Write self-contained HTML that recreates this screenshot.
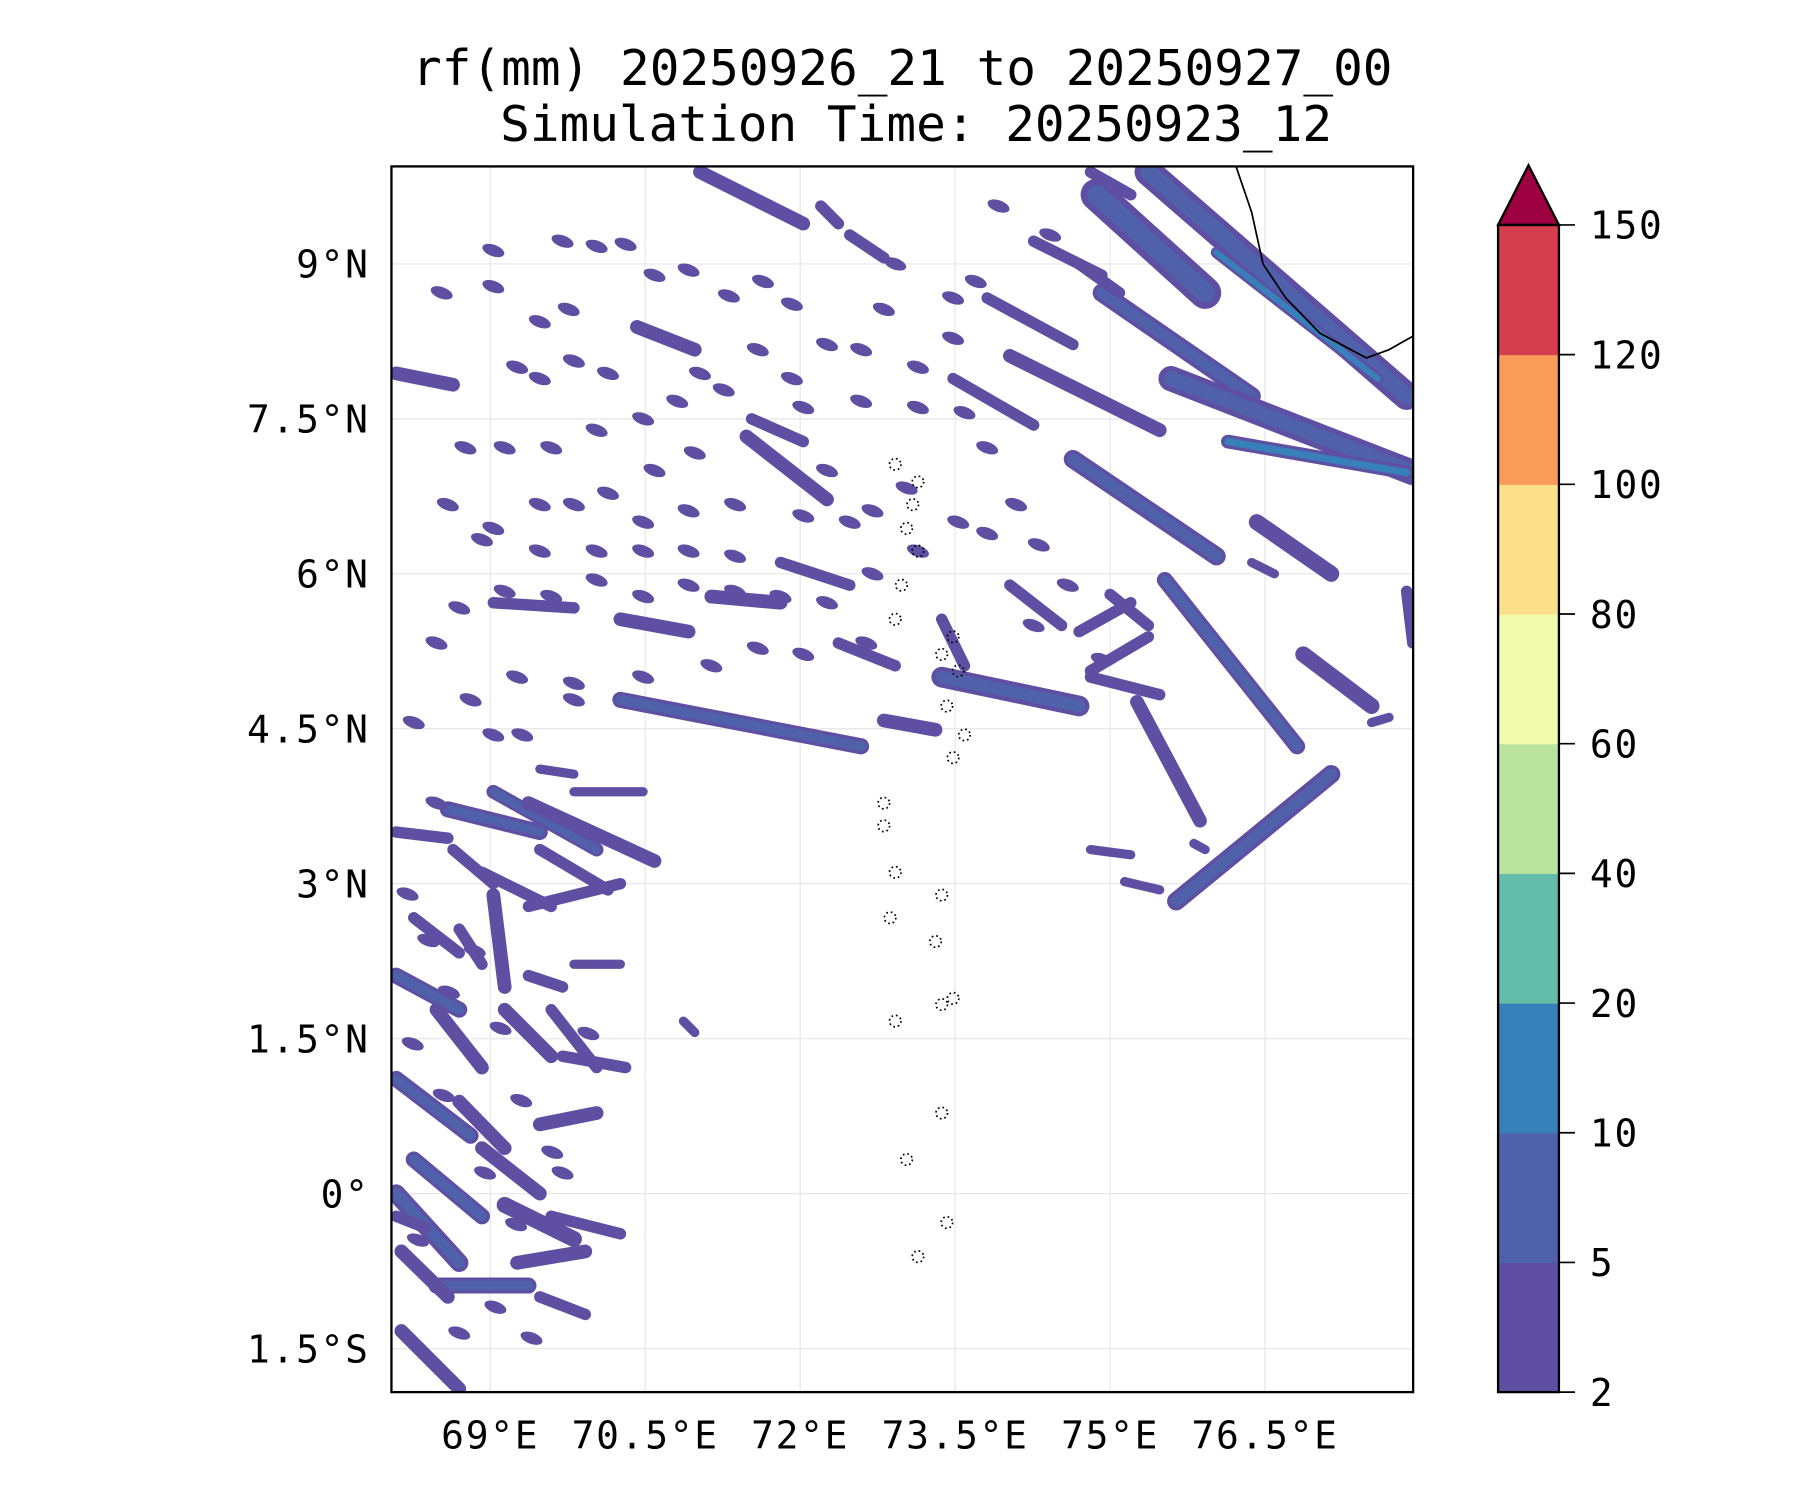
<!DOCTYPE html>
<html><head><meta charset="utf-8"><style>
html,body{margin:0;padding:0;background:#fff}
svg{display:block}
text{font-family:"DejaVu Sans Mono","Liberation Mono",monospace;fill:#000}
</style></head><body>
<svg id="chart" width="1800" height="1500" viewBox="0 0 1568 1307" preserveAspectRatio="none" xmlns="http://www.w3.org/2000/svg">
<text x="786" y="74" font-size="43" text-anchor="middle">rf(mm) 20250926_21 to 20250927_00</text>
<text x="798" y="123" font-size="43" text-anchor="middle">Simulation Time: 20250923_12</text>
<defs><clipPath id="mapclip"><rect x="341" y="145" width="890" height="1068"/></clipPath></defs>
<g id="grid"></g>
<g id="rain" clip-path="url(#mapclip)"></g>
<g id="geo" clip-path="url(#mapclip)"></g>
<rect x="341" y="145" width="890" height="1068" fill="none" stroke="#000" stroke-width="2"/>
<g id="axes"></g>
<g id="cbar"></g>
</svg>
<script>
// ---- data ----
const lonTicks = [69, 70.5, 72, 73.5, 75, 76.5];
const lonTickLabels = ["69°E", "70.5°E", "72°E", "73.5°E", "75°E", "76.5°E"];
const latTicks = [9, 7.5, 6, 4.5, 3, 1.5, 0, -1.5];
const latTickLabels = ["9°N", "7.5°N", "6°N", "4.5°N", "3°N", "1.5°N", "0°", "1.5°S"];
const levelBounds = [2, 5, 10, 20, 40, 60, 80, 100, 120, 150];
const levelColors = ["#5e4fa2", "#4f61aa", "#3880b9", "#62bda9", "#bbe3a0", "#f2faad", "#fcdf8b", "#f99b59", "#d53e4f"];
const extendColor = "#9e0142";

const bandLon1 = [75.37,76.03,74.87,74.92,75.59,76.14,74.03,74.64,76.42,74.70,75.53,76.87,73.37,75.26,75.64,74.03,74.70,74.81,75.00,74.81,74.81,75.14,74.26,73.81,73.48,71.03,72.20,72.48,74.81,
 70.26,72.81,70.42,71.48,71.53,71.81,70.26,69.03,68.09,71.14,72.37,73.37,
 68.59,69.03,69.37,69.48,68.64,68.09,68.92,68.26,69.03,69.37,68.09,68.48,68.70,69.14,69.59,68.09,68.26,68.09,68.70,68.92,69.48,69.70,69.14,68.48,68.14,69.26,69.48,68.14,69.59,69.37,69.81,68.09,69.81,69.48,
 77.87,77.53,76.37,75.81,70.87];
const bandLat1 = [9.89,9.11,9.67,8.72,7.89,7.28,8.11,7.11,6.50,9.00,5.94,5.22,5.00,4.76,2.83,5.89,5.44,5.06,5.80,5.00,3.33,3.02,9.22,8.67,7.89,9.89,9.56,9.28,9.89,
 4.78,4.58,8.39,7.33,7.50,6.11,5.56,5.72,7.94,5.78,5.33,5.56,
 3.72,3.89,3.78,3.33,3.33,3.50,3.11,2.67,2.89,2.78,2.11,1.78,2.56,1.78,1.78,1.11,0.33,0.00,0.89,0.44,0.67,1.33,-0.11,-0.89,-0.56,-0.67,-1.00,-1.33,-0.22,2.11,2.22,-0.22,3.89,4.11,
 5.83,4.56,6.11,3.39,1.67];
const bandLon2 = [77.87,77.59,75.92,76.37,77.93,77.87,75.48,76.03,77.14,75.09,76.81,77.53,74.70,75.87,77.14,74.53,75.20,75.37,75.37,75.48,75.20,75.48,74.92,74.64,74.26,72.03,72.37,72.81,75.20,
 72.59,73.31,70.98,72.26,72.03,72.48,70.92,69.81,68.64,71.81,72.92,73.59,
 69.48,70.03,70.59,70.14,69.03,68.59,69.59,68.70,69.14,70.26,68.70,68.92,68.92,69.59,70.03,68.81,68.92,68.70,69.14,69.48,70.03,70.31,69.81,69.37,68.59,69.92,69.92,68.70,70.26,69.70,70.26,68.37,70.48,69.81,
 77.93,77.70,76.59,75.92,70.98];
const bandLat2 = [7.72,7.89,8.72,7.72,6.98,6.98,7.39,6.17,6.00,8.72,4.33,4.72,4.72,3.61,4.06,5.50,5.72,5.39,5.50,4.83,3.28,2.94,8.89,8.22,7.44,9.39,9.39,9.06,9.67,
 4.33,4.49,8.17,6.72,7.28,5.89,5.44,5.67,7.83,5.72,5.11,5.11,
 3.50,3.33,3.22,2.94,3.00,3.44,2.78,2.33,2.00,3.00,1.78,1.22,2.22,1.33,1.22,0.56,-0.22,-0.67,0.44,0.00,0.78,1.22,-0.44,-0.89,-1.00,-0.56,-1.17,-1.89,-0.39,2.00,2.22,-0.33,3.89,4.06,
 5.33,4.61,6.00,3.33,1.56];
const bandWidth = [24,10,28,16,22,12,12,16,14,10,14,14,18,12,16,10,10,10,10,10,8,8,10,10,10,12,10,10,10,
 14,12,12,12,10,10,12,10,12,12,10,10,
 14,12,12,10,10,10,10,10,12,10,14,12,10,12,10,14,14,16,12,12,12,10,14,14,12,12,10,12,10,10,8,10,8,8,
 10,8,8,8,8];
const bandLevel = [1,2,1,1,1,2,0,1,0,0,1,0,1,0,1,0,0,0,0,0,0,0,0,0,0,0,0,0,0,
 1,0,0,0,0,0,0,0,0,0,0,0,
 1,1,0,0,0,0,0,0,0,0,1,0,0,0,0,1,1,1,0,0,0,0,0,1,0,0,0,0,0,0,0,0,0,0,
 0,0,0,0,0];

const blobLon = [69.03,70.03,70.31,69.70,70.59,70.92,71.31,71.64,71.92,72.81,72.92,73.48,73.70,73.92,74.42,70.14,69.81,69.48,69.26,71.03,71.26,70.81,70.48,70.03,69.59,69.14,68.76,69.48,69.81,70.14,70.48,70.92,71.37,72.03,72.70,73.03,72.26,72.03,72.59,73.14,73.59,73.81,74.09,74.31,73.81,73.53,73.14,72.70,72.26,71.81,71.37,70.92,70.48,70.03,69.59,69.14,68.70,68.48,69.26,69.81,70.48,71.14,71.59,72.03,72.64,69.48,68.92,68.59,69.03,70.03,70.48,70.92,71.37,70.98,70.59,72.59,73.14,73.48,71.59,71.92,72.26,69.48,69.76,69.03,68.53,69.81,69.31,68.81,68.26,74.59,74.26,74.92,72.48,68.48,69.03,
 68.20,68.40,68.60,68.85,69.10,69.30,69.60,69.95,68.25,68.55,68.95,69.25,69.70,68.30,68.70,69.05,69.40];
const blobLat = [9.13,9.17,9.19,9.22,8.89,8.94,8.69,8.83,8.61,8.56,9.00,8.67,8.83,9.56,9.28,7.94,8.06,7.89,8.00,7.94,7.78,7.67,7.50,7.39,7.22,7.22,7.22,6.67,6.67,6.78,6.50,6.61,6.67,6.56,6.61,6.83,7.00,7.61,7.67,7.61,7.56,7.22,6.67,6.28,6.39,6.50,6.22,6.00,5.72,5.78,5.83,5.89,5.78,5.94,5.78,5.83,5.67,5.33,5.00,4.94,5.00,5.11,5.28,5.22,5.33,6.22,6.33,6.67,6.44,6.22,6.22,6.22,6.17,7.17,7.00,8.17,8.00,8.28,8.17,7.89,8.22,8.44,8.56,8.78,8.72,4.78,4.44,4.78,4.56,5.89,5.50,5.17,6.50,3.78,4.44,
 2.90,2.45,1.95,2.35,1.60,0.90,0.40,1.55,1.45,0.95,0.20,-0.30,0.20,-0.45,-1.35,-1.10,-1.40];

const islandLon = [72.92,73.14,73.09,73.03,73.14,72.98,72.92,73.48,73.37,73.53,73.42,73.59,73.48,72.81,72.81,72.92,73.37,72.87,73.31,73.48,73.37,72.92,73.37,73.03,73.42,73.14];
const islandLat = [7.06,6.89,6.67,6.44,6.22,5.89,5.56,5.39,5.22,5.06,4.72,4.44,4.22,3.78,3.56,3.11,2.89,2.67,2.44,1.89,1.83,1.67,0.78,0.33,-0.28,-0.61];

const coastLon = [76.22,76.37,76.48,76.70,77.03,77.48,77.70,77.93];
const coastLat = [9.94,9.50,9.00,8.67,8.33,8.09,8.17,8.30];

// ---- axes ----
const X0 = 341, X1 = 1231, Y0 = 145, Y1 = 1213;
const lonMin = 68.044, lonMax = 77.933, latMin = -1.922, latMax = 9.944;
const xs = lon => X0 + (lon - lonMin) / (lonMax - lonMin) * (X1 - X0);
const ys = lat => Y0 + (latMax - lat) / (latMax - latMin) * (Y1 - Y0);
const NS = "http://www.w3.org/2000/svg";
function mk(tag, attrs, parent) {
  const e = document.createElementNS(NS, tag);
  for (const k in attrs) e.setAttribute(k, attrs[k]);
  parent.appendChild(e);
  return e;
}
const grid = document.getElementById('grid');
const axes = document.getElementById('axes');
const rain = document.getElementById('rain');
const geo = document.getElementById('geo');
const cbar = document.getElementById('cbar');

lonTicks.forEach((v, i) => {
  const l = mk('line', {x1: xs(v), x2: xs(v), y1: Y0, y2: Y1, stroke: '#e6e6e6', 'stroke-width': 1}, grid);
  
  
  const t = mk('text', {x: xs(v), y: 1262, 'font-size': 33, 'letter-spacing': 1.5, 'text-anchor': 'middle'}, axes);
  t.textContent = lonTickLabels[i];
  
  
});
latTicks.forEach((v, i) => {
  const l = mk('line', {x1: X0, x2: X1, y1: ys(v), y2: ys(v), stroke: '#e6e6e6', 'stroke-width': 1}, grid);
  
  
  const t = mk('text', {x: 322, y: ys(v) + 12, 'font-size': 33, 'letter-spacing': 1.5, 'text-anchor': 'end'}, axes);
  t.textContent = latTickLabels[i];
  
  
});

// rain bands
bandLon1.forEach((v, i) => {
  const a = {x1: xs(v), y1: ys(bandLat1[i]), x2: xs(bandLon2[i]), y2: ys(bandLat2[i])};
  const b = mk('line', Object.assign({stroke: levelColors[0], 'stroke-width': bandWidth[i], 'stroke-linecap': 'round'}, a), rain);
  
  
  if (bandLevel[i] >= 1) {
    const c = mk('line', Object.assign({stroke: levelColors[1], 'stroke-width': bandWidth[i] * 0.6, 'stroke-linecap': 'round'}, a), rain);
    
    
  }
  if (bandLevel[i] >= 2) {
    const d = mk('line', Object.assign({stroke: levelColors[2], 'stroke-width': bandWidth[i] * 0.5, 'stroke-linecap': 'round'}, a), rain);
    
    
  }
});
blobLon.forEach((v, i) => {
  const e = mk('ellipse', {cx: xs(v), cy: ys(blobLat[i]), rx: 10, ry: 5, fill: levelColors[0], transform: `rotate(20 ${xs(v)} ${ys(blobLat[i])})`}, rain);
  
  
});
islandLon.forEach((v, i) => {
  const c = mk('circle', {cx: xs(v), cy: ys(islandLat[i]), r: 5, fill: 'none', stroke: '#000', 'stroke-width': 1.5, 'stroke-dasharray': '1.5 2.5'}, geo);
  
  
});
const coast = mk('polyline', {points: coastLon.map((v, i) => xs(v) + ',' + ys(coastLat[i])).join(' '), fill: 'none', stroke: '#000', 'stroke-width': 1.5}, geo);



// colorbar
const CX = 1305, CW = 53, CT = 196, CB = 1213;
const step = (CB - CT) / (levelBounds.length - 1);
const cy = i => CB - i * step;
levelColors.forEach((col, i) => {
  const r = mk('rect', {x: CX, y: cy(i + 1), width: CW, height: step + 0.5, fill: col}, cbar);
  
  
});
const tri = mk('polygon', {points: `${CX},${CT} ${CX + CW / 2},${CT - 52} ${CX + CW},${CT}`, fill: extendColor, stroke: '#000', 'stroke-width': 2}, cbar);


const outline = mk('rect', {x: CX, y: CT, width: CW, height: CB - CT, fill: 'none', stroke: '#000', 'stroke-width': 2}, cbar);


levelBounds.forEach((v, i) => {
  const l = mk('line', {x1: CX + CW, x2: CX + CW + 14, y1: cy(i), y2: cy(i), stroke: '#000', 'stroke-width': 1.5}, cbar);
  
  
  const t = mk('text', {x: 1385, y: cy(i) + 12, 'font-size': 33, 'letter-spacing': 1.5}, cbar);
  t.textContent = v;
  
  
});
</script>
</body></html>
